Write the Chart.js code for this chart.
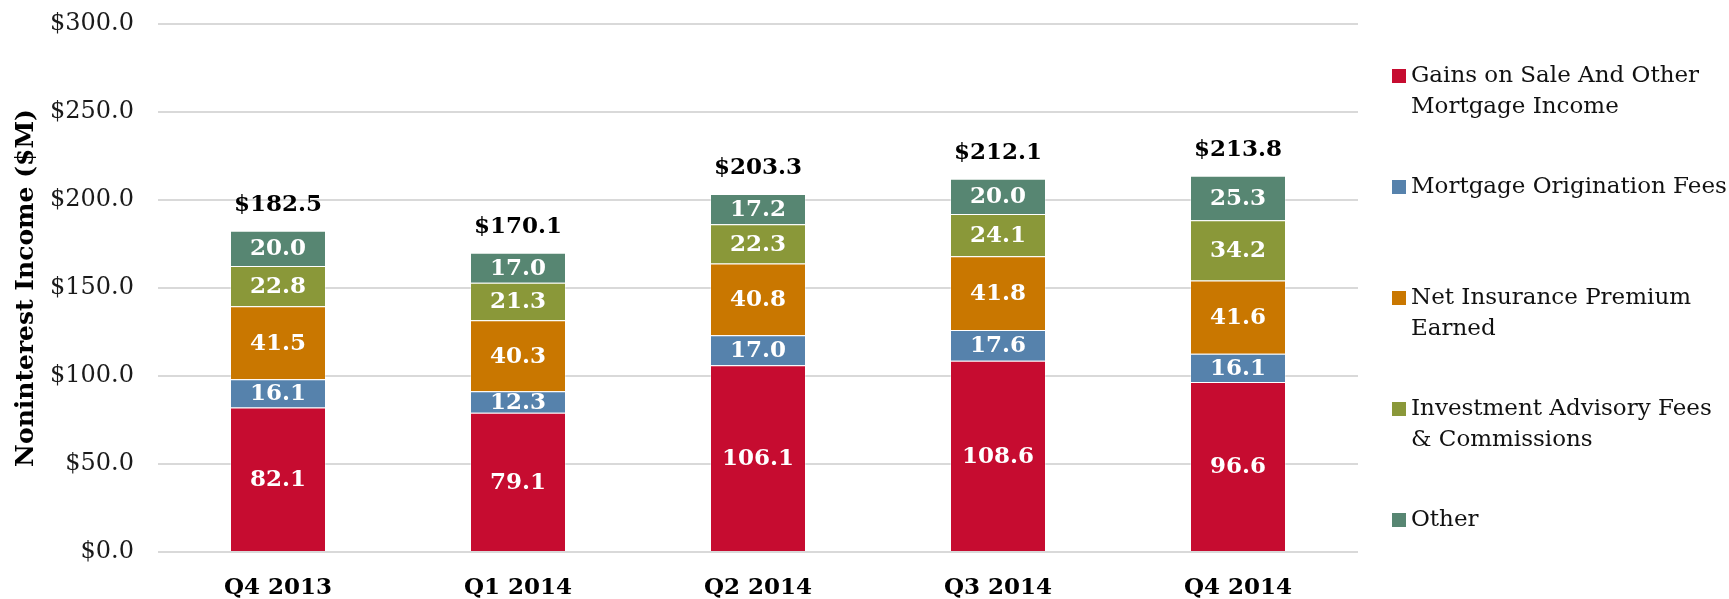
<!DOCTYPE html>
<html lang="en">
<head>
    <meta charset="UTF-8">
    <title>Noninterest Income</title>
    <script src="https://cdn.jsdelivr.net/npm/chart.js"></script>
    <style>
        html, body { margin: 0; padding: 0; background: #fff; }
        #wrap { width: 1729px; height: 599px; }
    </style>
</head>
<body>
    <div id="wrap">
        <canvas id="income-chart" width="1729" height="599"></canvas>
    </div>

    <script>
        // quarters on the x axis
        const quarters = ['Q4 2013', 'Q1 2014', 'Q2 2014', 'Q3 2014', 'Q4 2014'];

        // series values ($M), bottom to top of each stack
        const gainsOnSale = [82.1, 79.1, 106.1, 108.6, 96.6];
        const originationFees = [16.1, 12.3, 17.0, 17.6, 16.1];
        const insurancePremium = [41.5, 40.3, 40.8, 41.8, 41.6];
        const advisoryFees = [22.8, 21.3, 22.3, 24.1, 34.2];
        const otherIncome = [20.0, 17.0, 17.2, 20.0, 25.3];

        // totals as printed above the bars
        const totals = [182.5, 170.1, 203.3, 212.1, 213.8];

        // legend text, split the way the picture wraps it
        const seriesNames = [
            ['Gains on Sale And Other', 'Mortgage Income'],
            ['Mortgage Origination Fees'],
            ['Net Insurance Premium', 'Earned'],
            ['Investment Advisory Fees', '& Commissions'],
            ['Other']
        ];

        const yTicks = [0, 50, 100, 150, 200, 250, 300];

        const colors = ['#C60C30', '#5682AC', '#C97700', '#8A9839', '#578672'];
        const serif = 'DejaVu Serif';

        // white numbers in each segment and the bold total on top
        const barLabels = {
            id: 'barLabels',
            afterDatasetsDraw(chart) {
                const ctx = chart.ctx;
                ctx.save();
                ctx.textAlign = 'center';
                ctx.textBaseline = 'middle';
                ctx.font = 'bold 23px "' + serif + '"';
                ctx.fillStyle = '#ffffff';
                chart.data.datasets.forEach((ds, di) => {
                    const meta = chart.getDatasetMeta(di);
                    meta.data.forEach((bar, i) => {
                        const p = bar.getProps(['x', 'y', 'base'], true);
                        ctx.fillText(ds.data[i].toFixed(1), p.x, (p.y + p.base) / 2 + 1);
                    });
                });
                const last = chart.getDatasetMeta(chart.data.datasets.length - 1);
                ctx.font = 'bold 23px "' + serif + '"';
                ctx.fillStyle = '#000000';
                last.data.forEach((bar, i) => {
                    const p = bar.getProps(['x', 'y'], true);
                    ctx.fillText('$' + totals[i].toFixed(1), p.x, p.y - 26);
                });
                ctx.restore();
            }
        };

        // legend on the right with wrapped lines
        const sideLegend = {
            id: 'sideLegend',
            afterDraw(chart) {
                const ctx = chart.ctx;
                const left = chart.chartArea.right + 34;
                ctx.save();
                ctx.font = '23px "' + serif + '"';
                ctx.textBaseline = 'middle';
                ctx.textAlign = 'left';
                chart.data.datasets.forEach((ds, i) => {
                    const cy = 76 + i * 111;
                    ctx.fillStyle = ds.backgroundColor;
                    ctx.fillRect(left, cy - 7, 14, 14);
                    ctx.fillStyle = '#111111';
                    ds.legendLines.forEach((line, j) => {
                        ctx.fillText(line, left + 19, cy + j * 31);
                    });
                });
                ctx.restore();
            }
        };

        const seriesValues = [gainsOnSale, originationFees, insurancePremium, advisoryFees, otherIncome];

        const datasets = seriesValues.map((values, i) => ({
            label: seriesNames[i].join(' '),
            legendLines: seriesNames[i],
            data: values,
            backgroundColor: colors[i],
            borderColor: 'rgba(255, 255, 255, 0.35)',
            borderWidth: 1,
            categoryPercentage: 1.0,
            barPercentage: 0.4
        }));

        new Chart(document.getElementById('income-chart'), {
            type: 'bar',
            data: { labels: quarters, datasets: datasets },
            options: {
                responsive: false,
                animation: false,
                devicePixelRatio: 1,
                layout: { padding: { top: 24, right: 371, bottom: 0, left: 0 } },
                plugins: {
                    legend: { display: false },
                    tooltip: { enabled: false }
                },
                scales: {
                    x: {
                        stacked: true,
                        grid: { display: false, drawTicks: false },
                        border: { display: false },
                        ticks: {
                            color: '#000000',
                            padding: 22,
                            font: { family: serif, size: 23, weight: 'bold' }
                        },
                        afterFit(scale) { scale.height = 47; }
                    },
                    y: {
                        stacked: true,
                        min: 0,
                        max: 300,
                        afterBuildTicks(scale) {
                            scale.ticks = yTicks.map(v => ({ value: v }));
                        },
                        // invisible tick marks give the gap between labels and plot
                        grid: {
                            color: '#d9d9d9',
                            lineWidth: 2,
                            drawTicks: true,
                            tickLength: 24,
                            tickColor: 'rgba(0, 0, 0, 0)'
                        },
                        border: { display: false },
                        ticks: {
                            color: '#1a1a1a',
                            padding: 0,
                            font: { family: serif, size: 24 },
                            callback: v => '$' + Number(v).toFixed(1)
                        },
                        title: {
                            display: true,
                            text: 'Noninterest Income ($M)',
                            color: '#000000',
                            padding: { top: 11, bottom: 0 },
                            font: { family: serif, size: 25, weight: 'bold' }
                        },
                        afterFit(scale) { scale.width = 158; }
                    }
                }
            },
            plugins: [barLabels, sideLegend]
        });
    </script>
</body>
</html>
